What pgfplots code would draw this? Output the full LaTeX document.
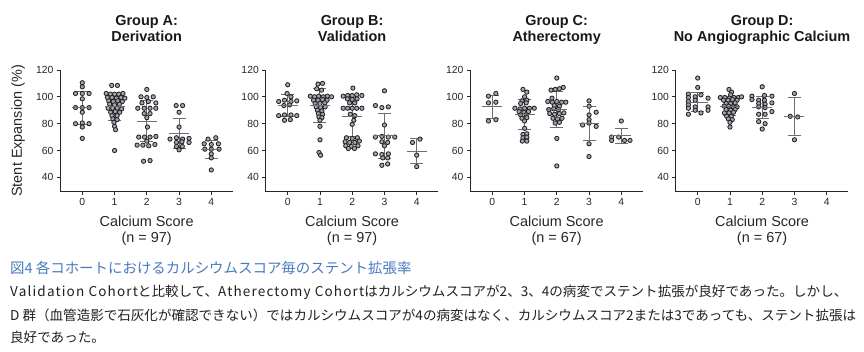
\documentclass[border=0pt]{standalone}
\usepackage{fontspec}
\setmainfont{Liberation Sans}
\newfontfamily\cjk{Noto Sans CJK JP}
\newfontfamily\cjkls[LetterSpace=8.5]{Noto Sans CJK JP}
\usepackage{pgfplots}
\pgfplotsset{compat=1.18}
\definecolor{dotfill}{RGB}{165,165,172}
\definecolor{dotdraw}{RGB}{35,35,40}
\definecolor{errcol}{RGB}{110,110,110}
\definecolor{capblue}{RGB}{72,121,190}
\definecolor{txt}{RGB}{35,31,32}
\newcommand\paneltitle[2]{%
  \node[font=\bfseries\fontsize{14.5}{16}\selectfont, text=black!90, anchor=base, inner sep=0pt] at (axis description cs:0.5,1.368) {#1};
  \node[font=\bfseries\fontsize{14.5}{16}\selectfont, text=black!90, anchor=base, inner sep=0pt] at (axis description cs:0.5,1.2366) {#2};}
\pgfplotsset{
  panel/.style={
    scale only axis, width=172.5bp, height=121.7bp,
    xmin=-0.68, xmax=4.67, ymin=29.3, ymax=120,
    axis lines=left, axis line style={-, line width=0.9bp, black!85},
    xtick={0,1,2,3,4}, ytick={40,60,80,100,120},
    tick align=outside, major tick length=3.5bp,
    tick style={line width=0.9bp, black!85},
    every tick label/.append style={font=\fontsize{10.4}{12}\selectfont, text=black!85},
    /pgf/number format/assume math mode=true,
    xlabel style={align=center, font=\fontsize{14.5}{16.5}\selectfont, text=black!85,
      at={(axis description cs:0.5,0)}, anchor=north, inner sep=0pt, yshift=-23.8bp},
    clip=false,
  },
  dots/.style={only marks, mark=*, mark size=2.15bp,
    mark options={draw=dotdraw, fill=dotfill, line width=0.85bp}},
  stats/.style={only marks, mark=-, mark size=10bp,
    mark options={line width=1bp, draw=errcol},
    error bars/.cd, y dir=both, y explicit,
    error bar style={line width=1bp, draw=errcol},
    error mark options={line width=1bp, draw=errcol, mark size=6.5bp, rotate=90}},
}
\begin{document}
\begin{tikzpicture}
\path[use as bounding box] (0bp,0bp) rectangle (864bp,-352bp);
% ---------------- Group A
\begin{axis}[panel, at={(60.4bp,-191.7bp)}, anchor=south west,
  xlabel={Calcium Score\\(n = 97)},
  ylabel={Stent Expansion (\%)},
  ylabel style={font=\fontsize{14.5}{16}\selectfont, text=black!85, at={(axis description cs:-0.245,0.5)}, anchor=center}]
\paneltitle{Group A:}{Derivation}
\addplot[dots] coordinates {
(0,110.5) (0,107.5) (-0.21,102.5) (0,102.5) (0.21,102.5) (0,98.5) (-0.21,92) (0,92) (0.21,92) (0,88.5) (-0.21,80) (0,80.5) (0.21,80) (0,77.5) (0,69)
(0.91,108.5) (1.09,108.5)
(0.74,102.5) (0.87,102) (1.0,102) (1.13,102) (1.26,102.5)
(0.78,99.5) (0.92,99.5) (1.06,99) (1.2,99.5) (1.32,99)
(0.82,97) (0.96,96.5) (1.1,97) (1.24,96.5)
(0.85,94.5) (1.0,94) (1.15,94.5)
(0.8,91.5) (0.94,91.5) (1.08,91.5) (1.22,91)
(0.88,88.5) (1.02,89) (1.16,88.5)
(0.92,86) (1.08,86)
(0.95,83.5) (1.08,83)
(0.98,81) (1.0,78) (1.03,75.5)
(1.0,60)
(2.0,105.5)
(1.82,100) (2.0,99.5) (2.2,100)
(1.85,95.5) (2.05,96.5) (2.28,95.5)
(1.72,91.5) (1.92,91.5) (2.1,91.5) (2.28,91.5)
(1.92,87.5) (2.1,87.5)
(2.0,84.5) (2.02,77.5)
(1.75,70) (1.93,70) (2.1,70) (2.28,70.5)
(1.7,64) (1.88,64) (2.06,63.5) (2.25,64.5) (2.0,67)
(1.9,52) (2.1,52.5)
(2.91,93.5) (3.11,93.5) (3.0,88.5) (3.0,77.5) (2.72,68.5) (2.92,69.5) (3.11,68.5) (3.31,69) (2.92,66) (3.09,66.5) (3.31,66) (2.92,63) (3.1,63) (3.0,60.5)
(3.9,68.5) (4.14,69.5) (3.78,65) (4.0,64.5) (4.22,65) (3.8,61) (4.0,61) (4.24,61) (4.0,57.5) (4.0,54.5) (4.0,45.5)
};
\addplot[stats] coordinates {
(0,91.8) +- (0,12.2)
(1,92.7) +- (0,10)
(2,81.9) +- (0,15)
(3,72.6) +- (0,11.4)
(4,60.7) +- (0,7)
};
\end{axis}
% ---------------- Group B
\begin{axis}[panel, at={(265.8bp,-191.7bp)}, anchor=south west,
  xlabel={Calcium Score\\(n = 97)}]
\paneltitle{Group B:}{Validation}
\addplot[dots] coordinates {
(0.0,109) (-0.02,102.5) (0.1,100) (-0.28,96.5) (-0.1,97.5) (0.1,96.5) (0.28,97) (-0.12,93.5) (0.06,94) (-0.28,86) (-0.1,86.5) (0.1,86.5) (0.28,86) (-0.1,82.5) (0.08,83)
(0.94,109.5) (1.08,110) (0.9,106) (1.05,105) (0.7,100.5) (0.83,100) (0.96,100.5) (1.1,100) (1.23,100.5) (1.36,100)
(0.8,97.5) (0.94,97.5) (1.08,98) (1.22,97.5)
(0.85,95) (1.0,95) (1.15,95.5)
(0.88,92.5) (1.02,92) (1.16,92.5)
(0.92,90) (1.06,89.5)
(0.95,87.5) (1.08,87)
(0.97,85) (1.06,84.5)
(1.0,82.5) (1.0,78) (1.0,68) (0.97,58.5) (1.02,56.5)
(2.02,106.5)
(1.72,100.5) (1.86,101) (2.0,101) (2.14,101.5) (2.3,101)
(1.85,98.5) (2.0,98) (2.15,98.5)
(1.92,95.5) (2.08,95.5)
(1.72,91.5) (1.86,91.5) (2.0,91.5) (2.14,91.5) (2.3,91.5)
(1.94,87) (2.08,86)
(2.05,82.5) (2.0,79.5)
(1.82,69.5) (2.0,69) (2.16,69.5)
(1.78,66.5) (1.92,66) (2.08,66) (2.22,67)
(1.8,63.5) (1.97,63) (2.18,63.5)
(1.88,61.5) (2.07,61.5)
(3.0,104.5) (2.72,93.5) (2.92,92) (3.12,92.5) (3.0,79) (2.72,70) (2.92,70.5) (3.12,70) (3.32,70) (2.92,66.5) (3.1,66) (3.0,63.5) (2.72,57.5) (2.92,57) (3.12,57.5) (2.95,54.5) (3.1,54.5) (2.92,49) (3.1,50)
(3.87,66) (4.1,68.5) (4.0,56.5) (4.0,48)
};
\addplot[stats] coordinates {
(0,93.4) +- (0,8)
(1,93.5) +- (0,12.8)
(2,85.2) +- (0,14.6)
(3,71) +- (0,16.6)
(4,59.6) +- (0,9.5)
};
\end{axis}
% ---------------- Group C
\begin{axis}[panel, at={(470.4bp,-191.7bp)}, anchor=south west,
  xlabel={Calcium Score\\(n = 67)}]
\paneltitle{Group C:}{Atherectomy}
\addplot[dots] coordinates {
(-0.12,100.5) (0.11,102.5) (-0.12,95.5) (0.11,96) (-0.12,82) (0.11,83)
(0.95,105.5) (1.07,103.5) (1.0,100) (0.92,97) (1.07,97.5) (0.88,95) (1.05,95.5) (0.7,91.5) (0.86,91) (1.0,91.5) (1.15,91.5) (1.3,91.5) (0.83,89) (0.98,88.5) (1.12,89) (0.88,86.5) (1.05,86.5) (0.92,84) (1.07,84.5) (1.0,82) (1.0,76.5) (0.95,72) (1.07,72.5) (0.95,69.5) (1.07,70) (0.93,67) (1.07,67)
(2.0,114) (1.82,105) (1.95,105.5) (2.08,106) (2.2,107) (1.85,99) (1.72,96.5) (1.86,96) (2.0,96.5) (2.15,96) (2.28,96) (1.92,93.5) (2.08,93) (1.75,90.5) (1.9,91) (2.05,90.5) (1.78,87.5) (1.93,87) (2.08,87.5) (2.22,88) (1.88,84) (2.02,83.5) (2.16,84) (1.95,80.5) (2.08,81) (2.0,69) (2.0,48.5)
(3.0,97) (3.0,93) (3.22,88.5) (3.0,86.5) (3.0,83) (2.8,79) (3.0,80.5) (3.22,78) (3.0,65) (3.0,55.5)
(4.0,82) (3.7,70) (3.7,67.5) (3.92,70) (4.1,67.5) (4.27,67.5)
};
\addplot[stats] coordinates {
(0,92.7) +- (0,8.5)
(1,86.8) +- (0,11)
(2,90.6) +- (0,13.3)
(3,80.2) +- (0,12.5)
(4,71) +- (0,5.5)
};
\end{axis}
% ---------------- Group D
\begin{axis}[panel, at={(675.8bp,-191.7bp)}, anchor=south west,
  xlabel={Calcium Score\\(n = 67)}]
\paneltitle{Group D:}{No Angiographic Calcium}
\addplot[dots] coordinates {
(0,114) (0,107) (-0.29,102) (-0.29,99.5) (-0.29,96.5) (-0.29,94) (-0.29,91.5) (-0.29,87) (-0.08,100) (-0.08,97.5) (-0.08,92.5) (-0.08,90) (0.1,101.5) (0.1,88) (0.32,99) (0.32,92.5) (0.32,90)
(0.97,105.5) (1.05,103.5) (1.02,101.5) (0.7,99.5) (0.84,99.5) (0.98,99) (1.12,99.5) (1.26,99.5) (1.36,100) (0.8,97.5) (0.94,97.5) (1.08,98) (1.22,97.5) (0.88,95) (1.02,95) (1.16,95.5) (0.82,93) (0.96,93) (1.1,92.5) (1.22,92.5) (0.88,90.5) (1.02,90) (1.16,90.5) (0.83,88) (0.97,88) (1.11,88.5) (0.9,85.5) (1.04,85.5) (0.95,83.5) (1.07,83) (1.0,81) (1.0,77.5)
(2.0,107.5) (1.68,100.5) (1.68,98) (2.07,101) (2.3,100.5) (1.89,97.5) (2.07,97.5) (2.3,95.5) (1.89,95) (2.09,94.5) (1.89,92.5) (2.09,92) (2.3,89) (1.89,87) (2.09,87) (1.89,81.5) (2.09,80) (2.0,76)
(3.0,102.5) (2.87,85.5) (3.1,85) (3.0,68)
};
\addplot[stats] coordinates {
(0,95.9) +- (0,7.2)
(1,92.7) +- (0,6.3)
(2,92.1) +- (0,8)
(3,85.4) +- (0,14)
};
\end{axis}
% ---------------- caption
\node[anchor=west, inner sep=0pt, text=capblue, font=\cjk\fontsize{14.5}{16}\selectfont] at (10bp,-268bp) {図4 各コホートにおけるカルシウムスコア毎のステント拡張率};
\node[anchor=west, inner sep=0pt, text=txt, font=\cjk\fontsize{13.6}{16}\selectfont] at (10bp,-292bp) {{\cjkls Validation Cohort}と比較して、{\cjkls Atherectomy Cohort}はカルシウムスコアが2、3、4の病変でステント拡張が良好であった。しかし、};
\node[anchor=west, inner sep=0pt, text=txt, font=\cjk\fontsize{13.6}{16}\selectfont] at (10bp,-315bp) {D 群（血管造影で石灰化が確認できない）ではカルシウムスコアが4の病変はなく、カルシウムスコア2または3であっても、ステント拡張は};
\node[anchor=west, inner sep=0pt, text=txt, font=\cjk\fontsize{13.6}{16}\selectfont] at (10bp,-337bp) {良好であった。};
\end{tikzpicture}
\end{document}
